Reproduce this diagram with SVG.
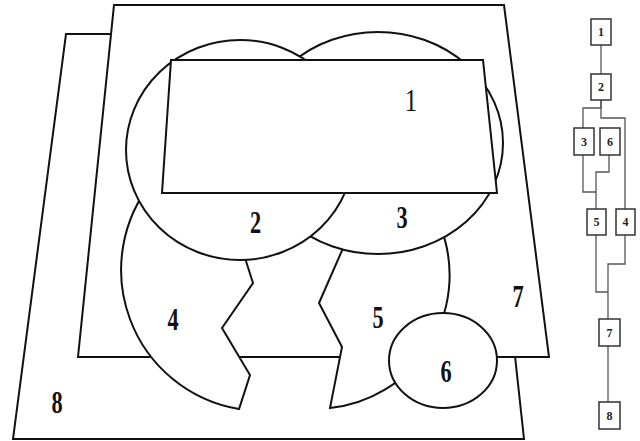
<svg xmlns="http://www.w3.org/2000/svg" width="640" height="441" viewBox="0 0 640 441">
<style>
.r{fill:#fff;stroke:#111;stroke-width:2;stroke-linejoin:miter}
.lb{font-family:"Liberation Serif","Times New Roman",serif;font-size:31px;font-weight:bold;fill:#111;text-anchor:middle}
.bx{fill:#fff;stroke:#333;stroke-width:1.5}
.bt{font-family:"Liberation Serif","Times New Roman",serif;font-size:12px;font-weight:bold;fill:#222;text-anchor:middle}
.cn{fill:none;stroke:#555;stroke-width:1.3}
</style>
<rect width="640" height="441" fill="#fff"/>
<g id="region8">
<polygon class="r" points="66,34 480,34 524,439 13,439"/>
<text class="lb" transform="translate(57,413) scale(0.72,1)">8</text>
</g>
<g id="region7">
<polygon class="r" points="114,5 504,5 549,357 78,357"/>
<text class="lb" transform="translate(518,307) scale(0.72,1)">7</text>
</g>
<g id="region4">
<path class="r" d="M153.5,180 A141,141 0 0 0 239,409 L250,375 L222,328 L253,283 L245,258 Z"/>
<text class="lb" transform="translate(173,330) scale(0.72,1)">4</text>
</g>
<g id="region5">
<path class="r" d="M351,230 L439.8,225 A133.5,133.5 0 0 1 330,408 L342,347 L319,303 Z"/>
<text class="lb" transform="translate(378,328) scale(0.72,1)">5</text>
</g>
<g id="region6">
<ellipse class="r" cx="443" cy="360.5" rx="54" ry="47.5"/>
<text class="lb" transform="translate(446,382) scale(0.72,1)">6</text>
</g>
<g id="region3">
<ellipse class="r" cx="378" cy="143" rx="125" ry="111"/>
<text class="lb" transform="translate(402,228) scale(0.72,1)">3</text>
</g>
<g id="region2">
<ellipse class="r" cx="240" cy="150" rx="114" ry="110"/>
<text class="lb" transform="translate(255.5,233) scale(0.72,1)">2</text>
</g>
<g id="region1">
<polygon class="r" points="171,60 483,60 497,193 162,193"/>
<text class="lb" style="font-weight:normal" transform="translate(411,111) scale(0.8,1)">1</text>
</g>
<g id="tree-connectors">
<path class="cn" d="M601,45 V74"/>
<path class="cn" d="M601,100 V108 H583 V128"/>
<path class="cn" d="M601,100 V118 H625 V209"/>
<path class="cn" d="M583,155 V192 H596"/>
<path class="cn" d="M609,155 V172 H596 V209"/>
<path class="cn" d="M596,235 V292 H608"/>
<path class="cn" d="M625,235 V264 H608 V319"/>
<path class="cn" d="M608,346 V402"/>
</g>
<g id="t1"><rect class="bx" x="591" y="19" width="20" height="26"/><text class="bt" x="601" y="36">1</text></g>
<g id="t2"><rect class="bx" x="591" y="74" width="20" height="26"/><text class="bt" x="601" y="91">2</text></g>
<g id="t3"><rect class="bx" x="574" y="128" width="20" height="27"/><text class="bt" x="584" y="146">3</text></g>
<g id="t6"><rect class="bx" x="600" y="128" width="20" height="27"/><text class="bt" x="610" y="146">6</text></g>
<g id="t5"><rect class="bx" x="587" y="209" width="19" height="26"/><text class="bt" x="596.5" y="226">5</text></g>
<g id="t4"><rect class="bx" x="616" y="209" width="19" height="26"/><text class="bt" x="625.5" y="226">4</text></g>
<g id="t7"><rect class="bx" x="599" y="319" width="21" height="27"/><text class="bt" x="609.5" y="337">7</text></g>
<g id="t8"><rect class="bx" x="599" y="402" width="21" height="27"/><text class="bt" x="609.5" y="420">8</text></g>
</svg>
